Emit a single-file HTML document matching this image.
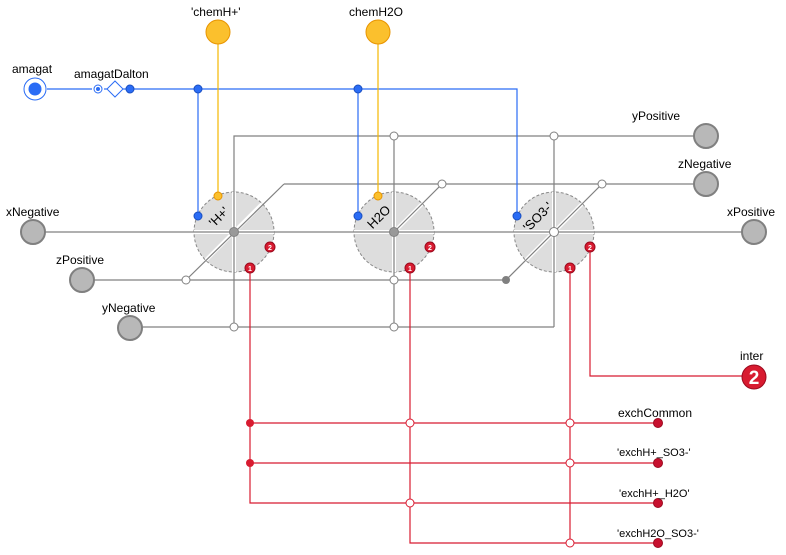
<!DOCTYPE html>
<html><head><meta charset="utf-8"><style>
html,body{margin:0;padding:0;background:#fff;}
svg{display:block;font-family:"Liberation Sans",sans-serif;}
</style></head><body>
<svg width="786" height="555" viewBox="0 0 786 555" xmlns="http://www.w3.org/2000/svg">
<g fill="#ddd" stroke="#888" stroke-dasharray="3,2" stroke-width="1">
<circle cx="234" cy="232" r="40"/><circle cx="394" cy="232" r="40"/><circle cx="554" cy="232" r="40"/>
</g>
<g stroke="#fff" stroke-width="4">
<line x1="194" y1="232" x2="274" y2="232"/><line x1="234" y1="192" x2="234" y2="272"/><line x1="206" y1="260" x2="262" y2="204"/>
<line x1="354" y1="232" x2="434" y2="232"/><line x1="394" y1="192" x2="394" y2="272"/><line x1="394" y1="232" x2="422" y2="204"/>
<line x1="514" y1="232" x2="594" y2="232"/><line x1="554" y1="192" x2="554" y2="272"/><line x1="526" y1="260" x2="582" y2="204"/>
</g>
<g stroke="#808080" stroke-width="1.2" fill="none">
<line x1="45" y1="232" x2="742" y2="232"/>
<polyline points="234,327 234,136 694,136"/>
<line x1="394" y1="136" x2="394" y2="327"/>
<line x1="554" y1="136" x2="554" y2="327"/>
<line x1="142" y1="327" x2="554" y2="327"/>
<line x1="284" y1="184" x2="694" y2="184"/>
<line x1="186" y1="280" x2="284" y2="184"/>
<line x1="394" y1="232" x2="442" y2="184"/>
<line x1="506" y1="280" x2="602" y2="184"/>
<line x1="94" y1="280" x2="506" y2="280"/>
</g>
<g fill="#fff" stroke="#808080" stroke-width="1">
<circle cx="394" cy="136" r="4"/><circle cx="554" cy="136" r="4"/>
<circle cx="442" cy="184" r="4"/><circle cx="602" cy="184" r="4"/>
<circle cx="186" cy="280" r="4"/><circle cx="394" cy="280" r="4"/>
<circle cx="234" cy="327" r="4"/><circle cx="394" cy="327" r="4"/>
<circle cx="554" cy="232" r="4.5"/>
</g>
<circle cx="234" cy="232" r="4.5" fill="#999" stroke="#808080"/>
<circle cx="394" cy="232" r="4.5" fill="#999" stroke="#808080"/>
<circle cx="506" cy="280" r="4" fill="#808080"/>
<g fill="#b8b8b8" stroke="#808080" stroke-width="2">
<circle cx="33" cy="232" r="12"/><circle cx="754" cy="232" r="12"/>
<circle cx="706" cy="136" r="12"/><circle cx="706" cy="184" r="12"/>
<circle cx="82" cy="280" r="12"/><circle cx="130" cy="328" r="12"/>
</g>
<g stroke="#2a6cf5" stroke-width="1.2" fill="none">
<line x1="47" y1="89" x2="92" y2="89"/><line x1="104" y1="89" x2="107" y2="89"/><line x1="123" y1="89" x2="126" y2="89"/>
<polyline points="130,89 517,89 517,216"/>
<line x1="198" y1="89" x2="198" y2="216"/><line x1="358" y1="89" x2="358" y2="216"/>
</g>
<circle cx="35" cy="89" r="11" fill="#fff" stroke="#2a6cf5"/>
<circle cx="35" cy="89" r="6.5" fill="#2a6cf5"/>
<circle cx="98" cy="89" r="4" fill="#fff" stroke="#2a6cf5"/><circle cx="98" cy="89" r="2" fill="#2a6cf5"/>
<polygon points="115,81 123,89 115,97 107,89" fill="#fff" stroke="#2a6cf5"/>
<g fill="#2a6cf5" stroke="#1a4fc0"><circle cx="130" cy="89" r="4"/><circle cx="198" cy="89" r="4"/><circle cx="358" cy="89" r="4"/>
<circle cx="198" cy="216" r="4"/><circle cx="358" cy="216" r="4"/><circle cx="517" cy="216" r="4"/></g>
<g stroke="#f5b800" stroke-width="1.2"><line x1="218" y1="44" x2="218" y2="196"/><line x1="378" y1="44" x2="378" y2="196"/></g>
<g fill="#fbc02d" stroke="#e89400"><circle cx="218" cy="32" r="12"/><circle cx="378" cy="32" r="12"/>
<circle cx="218" cy="196" r="4"/><circle cx="378" cy="196" r="4"/></g>
<g stroke="#d81b30" stroke-width="1.2" fill="none">
<polyline points="250,268 250,503 658,503"/>
<polyline points="410,268 410,543 658,543"/>
<line x1="570" y1="268" x2="570" y2="543"/>
<polyline points="590,247 590,376 742,376"/>
<line x1="250" y1="423" x2="658" y2="423"/>
<line x1="250" y1="463" x2="658" y2="463"/>
</g>
<g fill="#fff" stroke="#d81b30"><circle cx="410" cy="423" r="4"/><circle cx="570" cy="423" r="4"/><circle cx="570" cy="463" r="4"/><circle cx="410" cy="503" r="4"/><circle cx="570" cy="543" r="4"/></g>
<g fill="#d81b30"><circle cx="250" cy="423" r="4"/><circle cx="250" cy="463" r="4"/></g>
<g fill="#c8102e" stroke="#9b0a1e"><circle cx="658" cy="423" r="4.5"/><circle cx="658" cy="463" r="4.5"/><circle cx="658" cy="503" r="4.5"/><circle cx="658" cy="543" r="4.5"/></g>
<g fill="#d81b30" stroke="#9b0a1e"><circle cx="250" cy="268" r="5"/><circle cx="410" cy="268" r="5"/><circle cx="570" cy="268" r="5"/>
<circle cx="270" cy="247" r="5"/><circle cx="430" cy="247" r="5"/><circle cx="590" cy="247" r="5"/>
<circle cx="754" cy="377" r="12"/></g>
<g fill="#fff" font-size="7" font-weight="bold" text-anchor="middle">
<text x="250" y="271">1</text><text x="410" y="271">1</text><text x="570" y="271">1</text>
<text x="270" y="250">2</text><text x="430" y="250">2</text><text x="590" y="250">2</text>
<text x="754" y="384" font-size="19">2</text></g>
<g font-size="12" fill="#000">
<text x="12" y="73">amagat</text>
<text x="74" y="78">amagatDalton</text>
<text x="191" y="16">'chemH+'</text>
<text x="349" y="16">chemH2O</text>
<text x="632" y="120">yPositive</text>
<text x="678" y="168">zNegative</text>
<text x="6" y="216">xNegative</text>
<text x="727" y="216">xPositive</text>
<text x="56" y="264">zPositive</text>
<text x="102" y="312">yNegative</text>
<text x="740" y="360">inter</text>
<text x="618" y="417">exchCommon</text>
<text x="617" y="456" font-size="11">'exchH+_SO3-'</text>
<text x="619" y="497" font-size="11">'exchH+_H2O'</text>
<text x="617" y="537" font-size="11">'exchH2O_SO3-'</text>
</g>
<g font-size="13" fill="#000" text-anchor="middle">
<text transform="translate(222,220) rotate(-45)">'H+'</text>
<text transform="translate(382,220) rotate(-45)">H2O</text>
<text transform="translate(541,220) rotate(-45)">'SO3-'</text>
</g>
</svg>
</body></html>
